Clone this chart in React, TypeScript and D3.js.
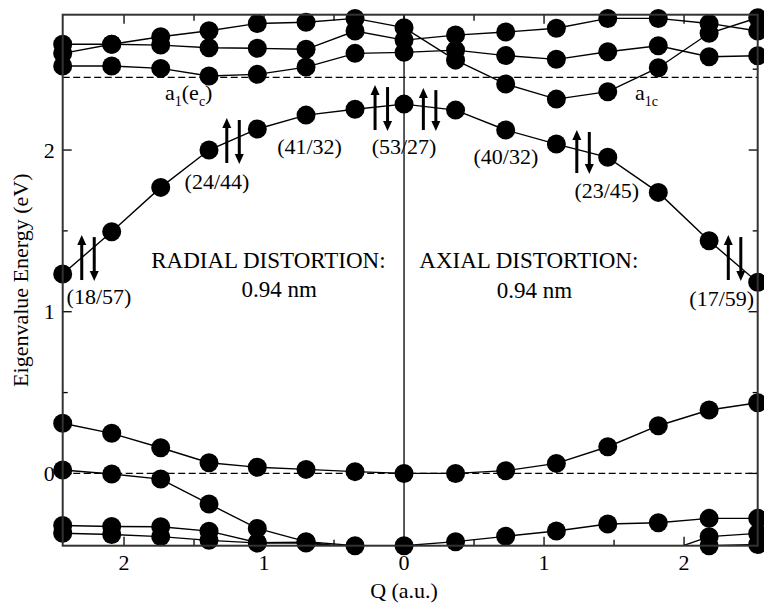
import React from "react";
import * as d3 from "d3";

// Q positions (left half shown as |Q|, radial; right half axial)
const Q_POINTS = [-2.438, -2.088, -1.738, -1.393, -1.048, -0.7, -0.35, 0, 0.368, 0.726, 1.088, 1.455, 1.816, 2.179, 2.526];

// upper (unoccupied) levels
const T1 = [2.598, 2.654, 2.701, 2.738, 2.783, 2.79, 2.814, 2.757, 2.556, 2.408, 2.315, 2.361, 2.509, 2.722, 2.818];
const T2 = [2.654, 2.654, 2.649, 2.633, 2.629, 2.623, 2.736, 2.68, 2.711, 2.73, 2.753, 2.814, 2.814, 2.783, 2.736];
const T3 = [2.52, 2.52, 2.505, 2.458, 2.468, 2.513, 2.598, 2.604, 2.618, 2.584, 2.561, 2.608, 2.645, 2.577, 2.583];
// occupied gap level
const HOMO = [1.233, 1.495, 1.769, 2.0, 2.13, 2.216, 2.252, 2.284, 2.247, 2.124, 2.037, 1.955, 1.738, 1.439, 1.182];
// lower levels
const L1 = [0.31, 0.248, 0.159, 0.066, 0.038, 0.025, 0.011, 0, 0, 0.017, 0.062, 0.165, 0.295, 0.392, 0.437];
const L2 = [0.021, -0.004, -0.035, -0.189, -0.34, -0.422, -0.447, -0.447, -0.422, -0.389, -0.356, -0.313, -0.305, -0.278, -0.278];
const L3 = [-0.322, -0.328, -0.33, -0.357, -0.428, -0.425, -0.46, null, null, null, null, null, -0.5, -0.391, -0.371];
const L4 = [-0.37, -0.378, -0.391, -0.414, -0.43, -0.43, -0.465, null, null, null, null, null, -0.46, -0.447, -0.44];

const SERIES = [T1, T2, T3, HOMO, L1, L2, L3, L4];

const DASHED_LEVELS = [0, 2.45];

const Y_MAJOR = [0, 1, 2];
const Y_MINOR = [0.5, 1.5, 2.5];
const X_MAJOR = [-2, -1, 0, 1, 2];
const X_MINOR = [-1.5, -0.5, 0.5, 1.5, 2.5];

// occupation labels: [text, Q, E]
const OCC_LABELS: [string, number, number][] = [
  ["(18/57)", -2.179, 1.048],
  ["(24/44)", -1.336, 1.759],
  ["(41/32)", -0.675, 1.975],
  ["(53/27)", 0, 1.975],
  ["(40/32)", 0.727, 1.913],
  ["(23/45)", 1.448, 1.703],
  ["(17/59)", 2.269, 1.035],
];

const TITLES: [string, number, number][] = [
  ["RADIAL DISTORTION:", -0.969, 1.27],
  ["0.94 nm", -0.891, 1.091],
  ["AXIAL DISTORTION:", 0.891, 1.27],
  ["0.94 nm", 0.932, 1.088],
];

// spin arrow pairs: [Q of up arrow, E bottom, E top]
const SPIN_PAIRS: [number, number, number][] = [
  [-2.302, 1.196, 1.474],
  [-1.266, 1.92, 2.198],
  [-0.207, 2.124, 2.402],
  [0.138, 2.124, 2.383],
  [1.234, 1.858, 2.124],
  [2.316, 1.196, 1.474],
];

const W = 764;
const H = 609;
const LEFT = 62.7;
const RIGHT = 757.7;
const TOP = 14.7;
const BOTTOM = 545.7;
const FONT = "'Liberation Serif', 'Times New Roman', serif";

export default function App() {
  const x = d3.scaleLinear().domain([-2.438, 2.526]).range([LEFT, RIGHT]);
  const y = d3.scaleLinear().domain([-0.447, 2.837]).range([BOTTOM, TOP]);

  const line = d3
    .line<number | null>()
    .defined((v) => v != null)
    .x((_, i) => x(Q_POINTS[i]))
    .y((v) => y(v as number));

  const arrow = (xa: number, y1: number, y2: number, up: boolean, key: string) => {
    const head = 10;
    const hw = 4.5;
    if (up) {
      return (
        <g key={key}>
          <line x1={xa} x2={xa} y1={y1} y2={y2 + head - 1} stroke="#000" strokeWidth={3} />
          <path d={`M${xa - hw},${y2 + head} L${xa},${y2} L${xa + hw},${y2 + head} Z`} fill="#000" />
        </g>
      );
    }
    return (
      <g key={key}>
        <line x1={xa} x2={xa} y1={y2} y2={y1 - head + 1} stroke="#000" strokeWidth={3} />
        <path d={`M${xa - hw},${y1 - head} L${xa},${y1} L${xa + hw},${y1 - head} Z`} fill="#000" />
      </g>
    );
  };

  return (
    <svg
      width={W}
      height={H}
      style={{ position: "absolute", left: 0, top: 0, background: "#fff" }}
      fontFamily={FONT}
    >
      <defs>
        <clipPath id="plotclip">
          <rect x={LEFT} y={TOP} width={RIGHT - LEFT} height={BOTTOM - TOP} />
        </clipPath>
      </defs>
      <rect x={0} y={0} width={W} height={H} fill="#fff" />

      {/* dashed reference levels */}
      {DASHED_LEVELS.map((e, i) => (
        <line
          key={"d" + i}
          x1={LEFT}
          x2={RIGHT}
          y1={y(e)}
          y2={y(e)}
          stroke="#000"
          strokeWidth={1.3}
          strokeDasharray="7,3.5"
        />
      ))}

      {/* Q = 0 divider */}
      <line x1={x(0)} x2={x(0)} y1={TOP} y2={BOTTOM} stroke="#000" strokeWidth={1.3} />

      {/* ticks */}
      {Y_MAJOR.map((v) => (
        <g key={"ym" + v}>
          <line x1={LEFT} x2={LEFT + 9} y1={y(v)} y2={y(v)} stroke="#000" strokeWidth={1.3} />
          <line x1={RIGHT} x2={RIGHT - 9} y1={y(v)} y2={y(v)} stroke="#000" strokeWidth={1.3} />
          <text x={LEFT - 8} y={y(v) + 7.5} fontSize={22} textAnchor="end">
            {d3.format("d")(v)}
          </text>
        </g>
      ))}
      {Y_MINOR.map((v) => (
        <g key={"yn" + v}>
          <line x1={LEFT} x2={LEFT + 5} y1={y(v)} y2={y(v)} stroke="#000" strokeWidth={1.3} />
          <line x1={RIGHT} x2={RIGHT - 5} y1={y(v)} y2={y(v)} stroke="#000" strokeWidth={1.3} />
        </g>
      ))}
      {X_MAJOR.map((v) => (
        <g key={"xm" + v}>
          <line x1={x(v)} x2={x(v)} y1={BOTTOM} y2={BOTTOM - 9} stroke="#000" strokeWidth={1.3} />
          <line x1={x(v)} x2={x(v)} y1={TOP} y2={TOP + 9} stroke="#000" strokeWidth={1.3} />
          <text x={x(v)} y={BOTTOM + 24} fontSize={22} textAnchor="middle">
            {d3.format("d")(Math.abs(v))}
          </text>
        </g>
      ))}
      {X_MINOR.map((v) => (
        <g key={"xn" + v}>
          <line x1={x(v)} x2={x(v)} y1={BOTTOM} y2={BOTTOM - 6} stroke="#000" strokeWidth={1.3} />
          <line x1={x(v)} x2={x(v)} y1={TOP} y2={TOP + 6} stroke="#000" strokeWidth={1.3} />
        </g>
      ))}

      {/* level lines */}
      <g clipPath="url(#plotclip)">
        {SERIES.map((s, i) => (
          <path key={"l" + i} d={line(s) || ""} fill="none" stroke="#000" strokeWidth={1.4} />
        ))}
      </g>

      {/* markers */}
      {SERIES.map((s, i) =>
        s.map((v, j) =>
          v != null && v >= -0.45 ? (
            <circle key={`c${i}-${j}`} cx={x(Q_POINTS[j])} cy={y(v)} r={9.5} fill="#000" />
          ) : null
        )
      )}

      {/* frame */}
      <rect
        x={LEFT}
        y={TOP}
        width={RIGHT - LEFT}
        height={BOTTOM - TOP}
        fill="none"
        stroke="#333"
        strokeWidth={2}
      />

      {/* spin arrows */}
      {SPIN_PAIRS.map(([q, e0, e1], i) => {
        const xu = x(q);
        const xd = xu + 12.5;
        return (
          <g key={"sp" + i}>
            {arrow(xu, y(e0), y(e1), true, "u")}
            {arrow(xd, y(e0) + 1, y(e1) + 2, false, "d")}
          </g>
        );
      })}

      {/* occupation labels */}
      {OCC_LABELS.map(([t, q, e], i) => (
        <text key={"o" + i} x={x(q)} y={y(e)} fontSize={22} textAnchor="middle">
          {t}
        </text>
      ))}
      {TITLES.map(([t, q, e], i) => (
        <text key={"t" + i} x={x(q)} y={y(e)} fontSize={23} textAnchor="middle">
          {t}
        </text>
      ))}

      {/* level labels */}
      <text x={x(-1.707)} y={y(2.309)} fontSize={22}>
        a<tspan fontSize={14} dy={6}>1</tspan>
        <tspan dy={-6}>(e</tspan>
        <tspan fontSize={14} dy={6}>c</tspan>
        <tspan dy={-6}>)</tspan>
      </text>
      <text x={x(1.65)} y={y(2.309)} fontSize={22}>
        a<tspan fontSize={14} dy={6}>1c</tspan>
      </text>

      {/* axis titles */}
      <text x={x(0)} y={598} fontSize={22} textAnchor="middle">
        Q (a.u.)
      </text>
      <text
        transform={`translate(28,${(TOP + BOTTOM) / 2}) rotate(-90)`}
        fontSize={22}
        textAnchor="middle"
      >
        Eigenvalue Energy (eV)
      </text>
    </svg>
  );
}
